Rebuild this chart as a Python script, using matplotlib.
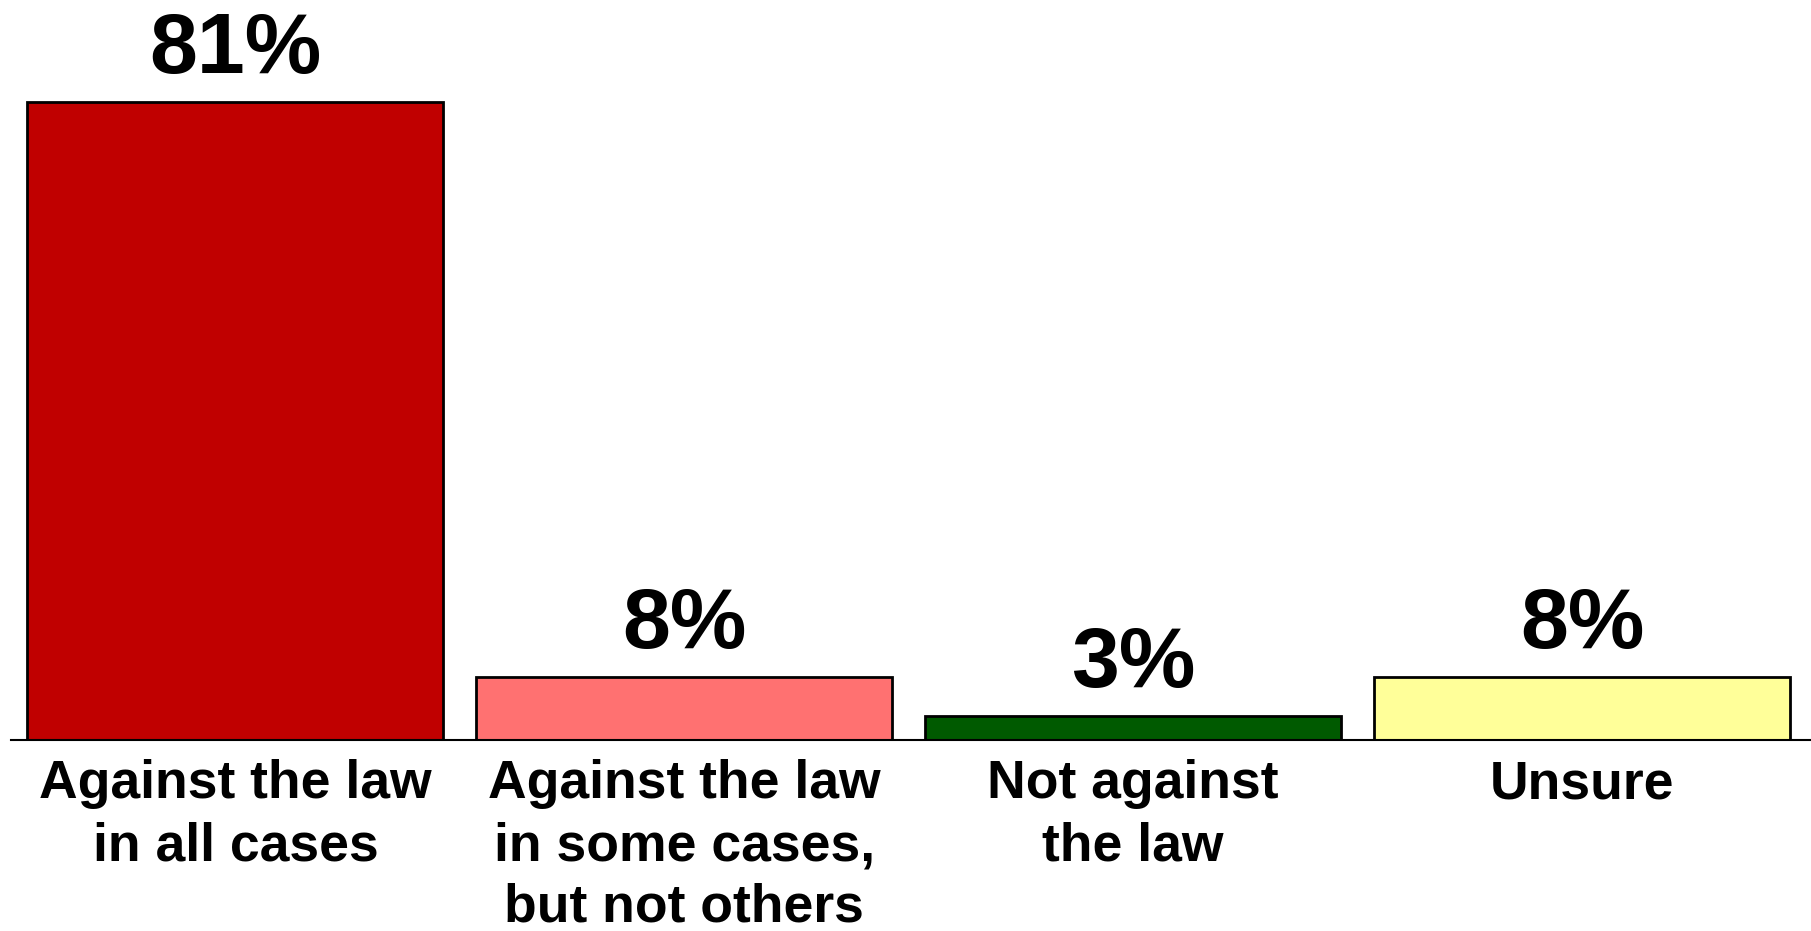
import matplotlib
matplotlib.use("Agg")
import matplotlib.pyplot as plt

categories = ["Against the law\nin all cases",
              "Against the law\nin some cases,\nbut not others",
              "Not against\nthe law",
              "Unsure"]
values = [81, 8, 3, 8]
colors = ["#C00000", "#FF7171", "#005A00", "#FFFF99"]

plt.rcParams["font.family"] = ["Liberation Sans", "DejaVu Sans"]

fig = plt.figure(figsize=(18.11, 9.31), dpi=100)
ax = fig.add_axes([11 / 1811, (931 - 740) / 931, 1800 / 1811, 709 / 931])

x = list(range(len(values)))
ax.bar(x, values, width=0.927, color=colors, edgecolor="black", linewidth=2, zorder=2)

# value labels above bars
for xi, v in zip(x, values):
    ax.annotate(f"{v}%", (xi, v), textcoords="offset points", xytext=(0, 8),
                ha="center", va="bottom", fontsize=62, fontweight="bold")

ax.set_xlim(-0.5, 3.51)
ax.set_ylim(0, 90)
ax.set_xticks(x)
ax.set_xticklabels(categories, fontsize=38.5, fontweight="bold", linespacing=1.3)
ax.tick_params(axis="x", length=0, pad=14)
ax.set_yticks([])
for s in ["top", "left", "right"]:
    ax.spines[s].set_visible(False)
ax.spines["bottom"].set_linewidth(1.5)
ax.spines["bottom"].set_zorder(3)

fig.savefig("out.png", dpi=100)
